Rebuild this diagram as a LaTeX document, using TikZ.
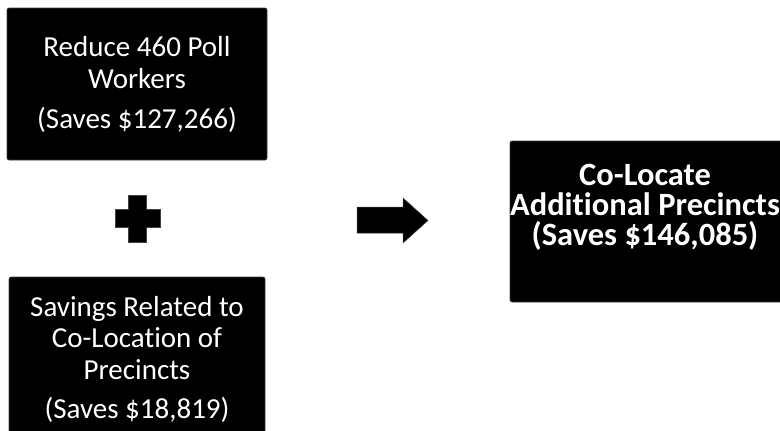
\documentclass[tikz,border=0pt]{standalone}
\usepackage{fontspec}
\setmainfont{Carlito}[Ligatures=CommonOff]
\begin{document}
\begin{tikzpicture}[x=1pt,y=-1pt]
\tikzset{
  blk/.style={fill=black, draw=black!75, line width=0.6pt, rounded corners=2pt, inner sep=0pt},
  txt/.style={text=white, align=center, inner sep=0pt},
  reg/.style={font=\fontsize{29}{31.5}\selectfont},
  bld/.style={font=\fontsize{32.5}{30}\selectfont\bfseries},
  shp/.style={fill=black, draw=black!75, line width=0.5pt},
}
\useasboundingbox (0,0) rectangle (780,431);
\clip (0,0) rectangle (780,431);
% boxes
\node[blk, minimum width=260pt, minimum height=152pt] (top) at (137,84) {};
\node[blk, minimum width=256pt, minimum height=160pt] (bot) at (137,357) {};
\node[blk, minimum width=290pt, minimum height=161pt] (res) at (655,221.5) {};
% texts
\node[txt, reg] (toptxt) at (137,84.5) {Reduce 460 Poll\\Workers\\[9pt](Saves \$127,266)};
\node[txt, reg] (bottxt) at (137,359.5) {Savings Related to\\Co-Location of\\Precincts\\[8pt](Saves \$18,819)};
\node[txt, bld] (restxt) at (645,207) {Co-Locate\\Additional Precincts\\(Saves \$146,085)};
% plus sign
\path[shp] (128,195) -- (146,195) -- (146,209) -- (160,209) -- (160,227) -- (146,227)
  -- (146,242) -- (128,242) -- (128,227) -- (115,227) -- (115,209) -- (128,209) -- cycle;
% arrow
\path[shp] (357,207) -- (403,207) -- (403,198) -- (428,220.5) -- (403,243) -- (403,233)
  -- (357,233) -- cycle;
\end{tikzpicture}
\end{document}
